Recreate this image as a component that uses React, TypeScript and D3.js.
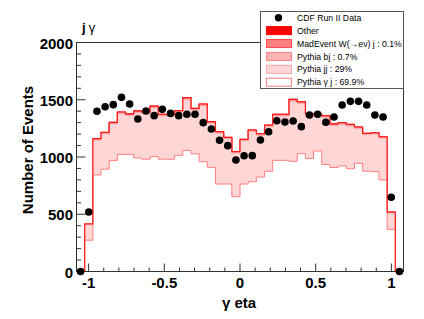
import React from "react";
import * as d3 from "d3";

// histogram binning on the photon eta axis
const binStart = -1.08;
const binWidth = 0.054;
const nBins = 40;

// CDF Run II data, events per bin
const dataCounts = [
  0, 520, 1399, 1439, 1457, 1521, 1463, 1332, 1402, 1361,
  1416, 1381, 1361, 1373, 1373, 1300, 1245, 1146, 1099, 974,
  1011, 1012, 1148, 1221, 1317, 1306, 1314, 1265, 1367, 1373,
  1303, 1349, 1454, 1486, 1486, 1454, 1367, 1349, 648, 0,
];

// stacked MC components (bottom to top)
const pythiaGammaJet = [
  0, 273, 843, 894, 970, 1023, 1023, 991, 981, 1003,
  981, 981, 1014, 1057, 1027, 959, 910, 764, 764, 653,
  764, 784, 825, 875, 971, 971, 962, 1029, 987, 1052,
  935, 908, 922, 897, 945, 876, 872, 800, 368, 0,
];
const pythiaJJ = [
  0, 138, 305, 308, 319, 355, 339, 396, 397, 426,
  377, 377, 376, 443, 383, 489, 385, 444, 396, 383,
  378, 439, 366, 389, 387, 387, 524, 439, 376, 308,
  412, 368, 364, 374, 303, 319, 328, 365, 145, 0,
];
const pythiaBJ = [
  0, 3, 8, 9, 9, 10, 10, 10, 10, 10,
  10, 10, 10, 11, 10, 10, 9, 9, 8, 7,
  8, 9, 8, 9, 10, 10, 11, 10, 10, 10,
  10, 9, 9, 9, 9, 8, 8, 8, 4, 0,
];
const madEventW = [
  0, 0, 1, 1, 1, 1, 1, 1, 1, 2,
  1, 1, 1, 2, 1, 1, 1, 1, 1, 1,
  1, 1, 1, 1, 1, 1, 2, 1, 1, 1,
  1, 1, 1, 1, 1, 1, 1, 1, 0, 0,
];
const otherBkg = [
  0, 1, 3, 3, 4, 4, 4, 4, 4, 4,
  4, 4, 4, 5, 4, 4, 4, 3, 3, 3,
  3, 3, 3, 4, 4, 4, 5, 4, 4, 4,
  4, 4, 4, 4, 4, 3, 3, 3, 1, 0,
];

const yMajor = [0, 500, 1000, 1500, 2000];
const xMajor = [-1, -0.5, 0, 0.5, 1];
const xMajorLabels = ["-1", "-0.5", "0", "0.5", "1"];

const layers = [
  { key: "gj", values: pythiaGammaJet, fill: "#ffffff", stroke: "#ff7f7f", label: "Pythia \u03b3 j : 69.9%" },
  { key: "jj", values: pythiaJJ, fill: "#ffd6d6", stroke: "#ffa6a6", label: "Pythia jj : 29%" },
  { key: "bj", values: pythiaBJ, fill: "#ffb3b3", stroke: "#ff8080", label: "Pythia bj : 0.7%" },
  { key: "w", values: madEventW, fill: "#ff8080", stroke: "#ff4d4d", label: "MadEvent W(\u2192e\u03bd) j : 0.1%" },
  { key: "other", values: otherBkg, fill: "#ff0000", stroke: "#ff0000", label: "Other" },
];

const FONT = "'Liberation Sans', Arial, Helvetica, sans-serif";

export default function App() {
  const width = 424;
  const height = 319;

  const x = d3.scaleLinear().domain([-1.08, 1.08]).range([76.5, 403.5]);
  const y = d3.scaleLinear().domain([0, 2000]).range([271.5, 42.5]);

  const bins = d3.range(nBins).map((i) => {
    const row: any = { lo: binStart + i * binWidth, hi: binStart + (i + 1) * binWidth };
    layers.forEach((l) => (row[l.key] = l.values[i]));
    return row;
  });

  const stacked = d3.stack().keys(layers.map((l) => l.key))(bins as any);

  const line = d3.line();
  const histPath = (series: any) => {
    const pts: [number, number][] = [[x(bins[0].lo), y(0)]];
    series.forEach((d: any, i: number) => {
      pts.push([x(bins[i].lo), y(d[1])]);
      pts.push([x(bins[i].hi), y(d[1])]);
    });
    pts.push([x(bins[nBins - 1].hi), y(0)]);
    return line(pts) as string;
  };

  const yMinor = d3.range(0, 2001, 100).filter((v) => v % 500 !== 0);
  const xMinor = d3.range(-10, 11).map((v) => v / 10).filter((v) => Math.abs(v * 2 - Math.round(v * 2)) > 1e-6);

  // legend geometry
  const lgX = 260.5, lgY = 11.5, lgW = 143, lgH = 77;
  const rowY = (i: number) => 17.7 + i * 12.9;
  const legendRows = [...layers].reverse();
  const topIdx = layers.length - 1;

  return (
    <div style={{ position: "absolute", left: 0, top: 0 }}>
      <svg width={width} height={height} style={{ display: "block", background: "#fff" }}>
        <rect width={width} height={height} fill="#fff" />

        {/* stacked histograms, drawn top cumulative first like THStack */}
        {layers.map((l, k) => layers.length - 1 - k).map((idx) => (
          <path
            key={layers[idx].key}
            d={histPath(stacked[idx])}
            fill={layers[idx].fill}
            stroke={layers[idx].stroke}
            strokeWidth={1}
          />
        ))}
        {/* total outline in red on top */}
        <path d={histPath(stacked[topIdx])} fill="none" stroke="#ff1a1a" strokeWidth={1.2} />

        {/* frame */}
        <rect x={76.5} y={42.5} width={327} height={229} fill="none" stroke="#333" strokeWidth={1} />

        {/* y ticks */}
        {yMajor.map((v) => (
          <line key={"ym" + v} x1={76.5} x2={85.5} y1={y(v)} y2={y(v)} stroke="#333" />
        ))}
        {yMinor.map((v) => (
          <line key={"yn" + v} x1={76.5} x2={81} y1={y(v)} y2={y(v)} stroke="#333" />
        ))}
        {yMajor.map((v) => (
          <text key={"yl" + v} x={73} y={y(v) + 6} textAnchor="end" fontFamily={FONT} fontWeight="bold" fontSize={15}>
            {v}
          </text>
        ))}

        {/* x ticks */}
        {xMajor.map((v) => (
          <line key={"xm" + v} x1={x(v)} x2={x(v)} y1={271.5} y2={263.5} stroke="#333" />
        ))}
        {xMinor.map((v) => (
          <line key={"xn" + v} x1={x(v)} x2={x(v)} y1={271.5} y2={267.5} stroke="#333" />
        ))}
        {xMajor.map((v, i) => (
          <text key={"xl" + v} x={x(v)} y={288} textAnchor="middle" fontFamily={FONT} fontWeight="bold" fontSize={15}>
            {xMajorLabels[i]}
          </text>
        ))}

        {/* axis titles */}
        <text x={239} y={308} textAnchor="middle" fontFamily={FONT} fontWeight="bold" fontSize={15}>
          {"\u03b3 eta"}
        </text>
        <text
          transform="translate(33,150) rotate(-90)"
          textAnchor="middle"
          fontFamily={FONT}
          fontWeight="bold"
          fontSize={15}
        >
          Number of Events
        </text>

        {/* pad title */}
        <text x={82} y={32} fontFamily={FONT} fontSize={13}>
          <tspan fontWeight="bold">j</tspan>
          <tspan dx={3}>{"\u03b3"}</tspan>
        </text>

        {/* data points */}
        {dataCounts.map((v, i) => (
          <circle key={"d" + i} cx={x((bins[i].lo + bins[i].hi) / 2)} cy={y(v)} r={3.8} fill="#000" />
        ))}

        {/* legend */}
        <rect x={lgX} y={lgY} width={lgW} height={lgH} fill="#fff" stroke="#555" strokeWidth={1} />
        <circle cx={278.5} cy={rowY(0)} r={3.7} fill="#000" />
        <text x={297} y={rowY(0) + 3.1} fontFamily={FONT} fontSize={8.7}>
          CDF Run II Data
        </text>
        {legendRows.map((l, i) => (
          <g key={"lg" + l.key}>
            <rect x={266.5} y={rowY(i + 1) - 4} width={25} height={8} fill={l.fill} stroke={l.stroke} strokeWidth={1} />
            <text x={297} y={rowY(i + 1) + 3.1} fontFamily={FONT} fontSize={8.7}>
              {l.label}
            </text>
          </g>
        ))}
      </svg>
    </div>
  );
}
